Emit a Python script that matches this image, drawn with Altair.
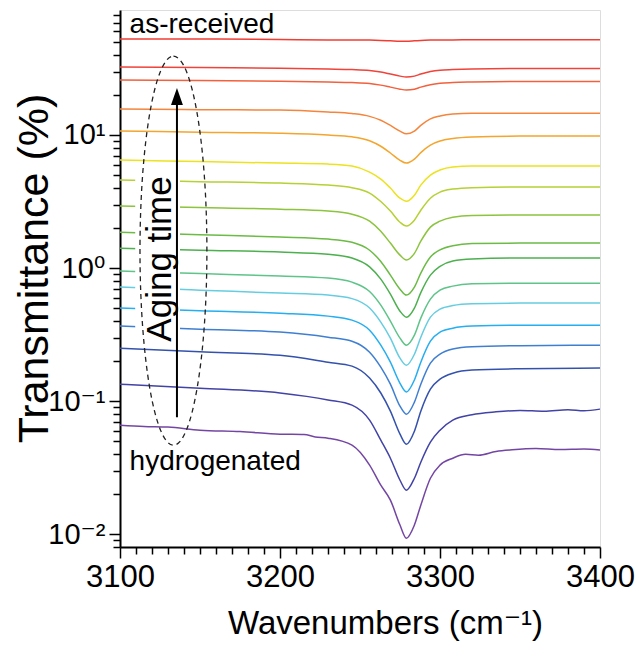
import altair as alt
import pandas as pd

# ---------------- data ----------------
wavenumbers = [3100, 3150, 3200, 3230, 3245, 3256, 3263, 3269, 3275, 3279,
               3284, 3288, 3294, 3300, 3308, 3320, 3350, 3400]
wn16 = [3100, 3150, 3200, 3230, 3245, 3256, 3263, 3269, 3275, 3279, 3284, 3288,
        3294, 3300, 3308, 3320, 3335, 3350, 3365, 3380, 3390, 3400]
wn17 = [3100, 3115, 3130, 3150, 3175, 3200, 3215, 3222, 3230, 3245, 3256, 3263, 3269,
        3275, 3279, 3284, 3288, 3294, 3300, 3308, 3316, 3324, 3335, 3345, 3360, 3375,
        3390, 3400]

curve_names = ["as-received", "c02", "c03", "c04", "c05", "c06", "c07", "c08", "c09",
               "c10", "c11", "c12", "c13", "c14", "c15", "c16", "hydrogenated"]
curve_colors = ["#f23d33", "#f0433a", "#f2603d", "#f5853c", "#f4a52e", "#ece21f",
                "#b5d134", "#8cc43e", "#6bbb45", "#4db04f", "#5ec489", "#66cde0",
                "#25aef0", "#3f7fd2", "#3452ad", "#4243a6", "#7446a3"]

t01 = [52.6, 52.6, 52.2, 51.8, 51.8, 51.7, 51.4, 51.0, 50.6, 50.6, 51.0, 51.4, 51.7, 51.8, 51.8, 52.0, 52.0, 52.0]
t02 = [32.4, 32.1, 31.8, 31.3, 31.0, 30.5, 29.7, 28.7, 27.7, 27.3, 27.7, 28.7, 30.0, 30.7, 31.0, 31.3, 31.6, 31.6]
t03 = [25.9, 25.7, 25.4, 25.0, 24.8, 24.4, 23.7, 22.9, 22.1, 21.8, 22.1, 22.9, 23.9, 24.5, 24.8, 25.0, 25.2, 25.2]
t04 = [15.7, 15.5, 15.4, 14.9, 14.5, 13.8, 12.9, 11.8, 10.7, 10.2, 10.7, 11.8, 13.2, 13.9, 14.4, 14.6, 14.6, 14.6]
t05 = [10.7, 10.5, 10.3, 9.98, 9.69, 9.06, 8.23, 7.32, 6.45, 6.15, 6.59, 7.37, 8.40, 9.00, 9.40, 9.65, 9.81, 9.81]
t06 = [6.48, 6.31, 6.15, 6.04, 5.84, 5.26, 4.66, 3.99, 3.35, 3.18, 3.53, 4.20, 4.99, 5.45, 5.74, 5.84, 5.84, 5.84]
t07 = [4.58, 4.46, 4.35, 4.20, 4.02, 3.66, 3.16, 2.68, 2.21, 2.07, 2.29, 2.72, 3.35, 3.72, 3.92, 4.02, 4.06, 4.06]
t08 = [2.92, 2.85, 2.77, 2.68, 2.54, 2.25, 1.89, 1.54, 1.25, 1.15, 1.29, 1.59, 2.03, 2.25, 2.41, 2.48, 2.50, 2.50]
t09 = [1.86, 1.78, 1.71, 1.65, 1.56, 1.36, 1.12, 0.885, 0.694, 0.626, 0.719, 0.916, 1.21, 1.37, 1.47, 1.53, 1.54, 1.54]
t10 = [1.41, 1.36, 1.32, 1.27, 1.19, 1.02, 0.825, 0.637, 0.474, 0.427, 0.500, 0.653, 0.885, 1.03, 1.13, 1.17, 1.19, 1.19]
t11 = [0.948, 0.908, 0.870, 0.840, 0.783, 0.666, 0.526, 0.399, 0.297, 0.263, 0.313, 0.420, 0.584, 0.682, 0.731, 0.761, 0.770, 0.770]
t12 = [0.719, 0.682, 0.648, 0.626, 0.589, 0.500, 0.392, 0.297, 0.210, 0.186, 0.225, 0.302, 0.427, 0.491, 0.522, 0.538, 0.545, 0.545]
t13 = [0.500, 0.478, 0.458, 0.435, 0.406, 0.341, 0.263, 0.196, 0.136, 0.117, 0.144, 0.196, 0.282, 0.330, 0.353, 0.366, 0.372, 0.372]
t14 = [0.366, 0.347, 0.330, 0.302, 0.282, 0.233, 0.180, 0.134, 0.0915, 0.0797, 0.0981, 0.134, 0.193, 0.225, 0.246, 0.256, 0.261, 0.263]
t15 = [0.250, 0.235, 0.221, 0.196, 0.183, 0.149, 0.115, 0.0840, 0.0564, 0.0474, 0.0594, 0.0840, 0.123, 0.146, 0.162, 0.171, 0.175, 0.177]
t16 = [0.134, 0.125, 0.115, 0.102, 0.0932, 0.0719, 0.0508, 0.0372, 0.0254, 0.0214, 0.0263, 0.0347,
       0.0491, 0.0604, 0.0719, 0.0790, 0.0830, 0.0850, 0.0838, 0.0862, 0.0845, 0.0870]
t17 = [0.0659, 0.0645, 0.0638, 0.0604, 0.0590, 0.0564, 0.0560, 0.0538, 0.0526, 0.0466, 0.0330, 0.0233,
       0.0180, 0.0117, 0.00932, 0.0117, 0.0165, 0.0263, 0.0330, 0.0372, 0.0398, 0.0392, 0.0418,
       0.0430, 0.0440, 0.0432, 0.0436, 0.0428]
series = [t01, t02, t03, t04, t05, t06, t07, t08, t09, t10, t11, t12, t13, t14, t15, t16, t17]
grids = [wavenumbers] * 15 + [wn16, wn17]

x_ticks = list(range(3100, 3401, 10))
y_ticks = [0.008, 0.009,
           0.01, 0.02, 0.03, 0.04, 0.05, 0.06, 0.07, 0.08, 0.09,
           0.1, 0.2, 0.3, 0.4, 0.5, 0.6, 0.7, 0.8, 0.9,
           1, 2, 3, 4, 5, 6, 7, 8, 9,
           10, 20, 30, 40, 50, 60, 70, 80]

# annotation anchors (data coordinates)
label_text = ["as-received", "hydrogenated"]
label_wn = [3106, 3106]
label_t = [58.5, 0.0302]
aging_text = ["Aging time"]
aging_wn = [3125]
aging_t = [1.17]
mask_wn, mask_wn2, mask_t, mask_t2 = [3109.5], [3137.5], [6.15], [0.341]
ellipse_wn, ellipse_t = [3133.4], [1.35]
arrow_wn, arrow_t_tail, arrow_t_head = [3135.6], [0.0757], [18.3]
head_t = [19.45]

# ---------------- build ----------------
rows = []
for name, grid, vals in zip(curve_names, grids, series):
    for w, t in zip(grid, vals):
        rows.append({"curve": name, "wn": w, "T": t})
df = pd.DataFrame(rows)

FONT = "Liberation Sans, Arial, DejaVu Sans, sans-serif"

x_scale = alt.Scale(domain=[3100, 3400], nice=False, zero=False)
y_scale = alt.Scale(type="log", domain=[0.008, 87], nice=False)

x_axis = alt.Axis(
    values=x_ticks, grid=False, format="d",
    labelExpr="datum.value % 100 == 0 ? datum.label : ''",
    tickSize={"condition": {"test": "datum.value % 100 == 0", "value": 11}, "value": 7},
    tickColor="black", tickWidth=1.5, domainColor="black", domainWidth=2,
    labelFont=FONT, labelFontSize=31, labelColor="black", labelPadding=4,
    labelFlush=False, labelOverlap=False,
    title="Wavenumbers (cm⁻¹)", titleFont=FONT, titleFontSize=33,
    titleFontWeight="normal", titleColor="black",
    titleX=265, titleY=86, titleBaseline="alphabetic", titleAlign="center",
)
y_axis = alt.Axis(
    values=y_ticks, grid=False,
    labelExpr="datum.value == 10 ? '10¹' : datum.value == 1 ? '10⁰' : "
              "datum.value == 0.1 ? '10⁻¹' : datum.value == 0.01 ? '10⁻²' : ''",
    tickSize={"condition": {"test": "indexof([0.01, 0.1, 1, 10], datum.value) >= 0", "value": 11},
              "value": 7},
    tickColor="black", tickWidth=1.5, domainColor="black", domainWidth=2,
    labelFont=FONT, labelFontSize=29, labelColor="black", labelPadding=4,
    labelFlush=False, labelOverlap=False,
    title="Transmittance (%)", titleFont=FONT, titleFontSize=43,
    titleFontWeight="normal", titleColor="black",
    titleAngle=270, titleX=-73, titleY=258, titleAlign="center", titleBaseline="alphabetic",
)

X = alt.X("wn:Q", scale=x_scale, axis=x_axis)
Y = alt.Y("T:Q", scale=y_scale, axis=y_axis)

lines = alt.Chart(df).mark_line(strokeWidth=1.5, interpolate="monotone", clip=True).encode(
    x=X, y=Y,
    color=alt.Color("curve:N", scale=alt.Scale(domain=curve_names, range=curve_colors), legend=None),
)

mask = alt.Chart(pd.DataFrame({"wn": mask_wn, "wn2": mask_wn2, "T": mask_t, "T2": mask_t2})).mark_rect(
    color="white").encode(x=X, x2="wn2:Q", y=Y, y2="T2:Q")

k, a = 0.5523, 0.172
ellipse_path = (f"M0,-1 C{k*a:.4f},-1 {a},-{k} {a},0 C{a},{k} {k*a:.4f},1 0,1 "
                f"C-{k*a:.4f},1 -{a},{k} -{a},0 C-{a},-{k} -{k*a:.4f},-1 0,-1 Z")
ellipse = alt.Chart(pd.DataFrame({"wn": ellipse_wn, "T": ellipse_t})).mark_point(
    shape=ellipse_path, size=151321, filled=False, color="#222222",
    strokeWidth=1.3, strokeDash=[5, 4], opacity=1).encode(x=X, y=Y)

arrow = alt.Chart(pd.DataFrame({"wn": arrow_wn, "T": arrow_t_tail, "T2": arrow_t_head})).mark_rule(
    color="black", strokeWidth=2).encode(x=X, y=Y, y2="T2:Q")
head = alt.Chart(pd.DataFrame({"wn": arrow_wn, "T": head_t})).mark_point(
    shape="M0,-1L0.7,1L-0.7,1Z", size=289, filled=True, color="black", opacity=1).encode(x=X, y=Y)

labels = alt.Chart(pd.DataFrame({"wn": label_wn, "T": label_t, "txt": label_text})).mark_text(
    align="left", baseline="alphabetic", font=FONT, fontSize=28, color="black").encode(
    x=X, y=Y, text="txt:N")
aging = alt.Chart(pd.DataFrame({"wn": aging_wn, "T": aging_t, "txt": aging_text})).mark_text(
    angle=270, align="center", baseline="middle", font=FONT, fontSize=35, color="black").encode(
    x=X, y=Y, text="txt:N")

chart = alt.layer(lines, mask, ellipse, arrow, head, labels, aging).properties(
    width=480, height=537,
    autosize=alt.AutoSizeParams(type="none"),
    padding={"left": 112, "top": 2, "right": 36, "bottom": 98},
).configure_view(stroke="black", strokeWidth=2).configure(background="white")

chart.save("out.html", embed_options={"renderer": "svg", "actions": False})
